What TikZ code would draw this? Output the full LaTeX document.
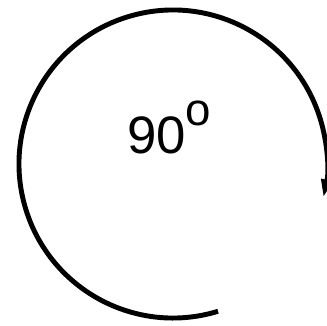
\documentclass[tikz,border=0pt]{standalone}
\usepackage{fontspec}
\setmainfont{Liberation Sans}
\usetikzlibrary{arrows.meta}

\begin{document}
\begin{tikzpicture}[
  x=0.02cm, y=0.02cm,
  turn/.style={line width=2.8pt, -{Triangle[length=10pt, width=6.5pt]}},
  angletext/.style={font=\fontsize{30}{30}\selectfont, inner sep=0pt, anchor=base west}
]
\useasboundingbox (0,0) rectangle (327,325);
\coordinate (c) at (173,161);
\draw[turn] (c) ++(287:154) arc[start angle=287, end angle=-12.4, radius=154];
\node[angletext] (lbl) at (127,172) {90\raisebox{15.5pt}{\fontsize{26}{26}\selectfont o}};
\end{tikzpicture}
\end{document}
